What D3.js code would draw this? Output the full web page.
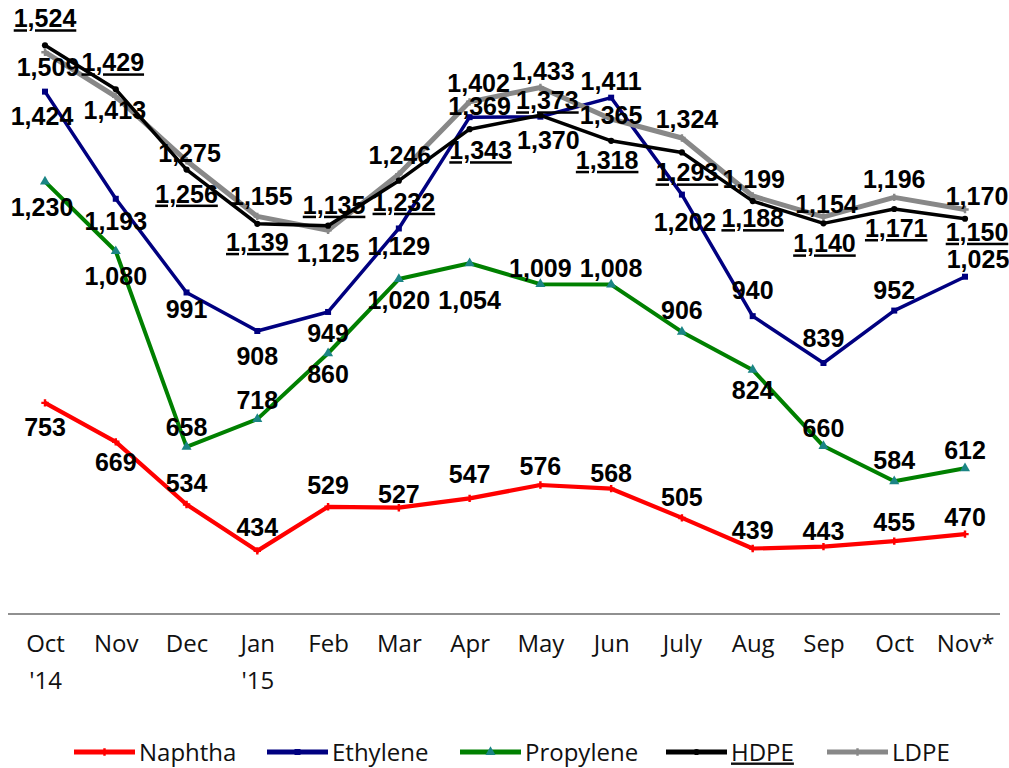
<!DOCTYPE html>
<html><head><meta charset="utf-8">
<script src="https://cdn.jsdelivr.net/npm/d3@7"></script>
<style>body{margin:0;background:#fff}svg{display:block}</style>
</head><body>
<svg id="c" width="1009" height="768"></svg>
<script>
const months = ["Oct","Nov","Dec","Jan","Feb","Mar","Apr","May","Jun","July","Aug","Sep","Oct","Nov*"];
const years  = ["'14","","","'15","","","","","","","","","",""];
const naphtha   = [753,669,534,434,529,527,547,576,568,505,439,443,455,470];
const ethylene  = [1424,1193,991,908,949,1129,1369,1370,1411,1202,940,839,952,1025];
const propylene = [1230,1080,658,718,860,1020,1054,1009,1008,906,824,660,584,612];
const hdpe      = [1524,1429,1256,1139,1135,1232,1343,1373,1318,1293,1188,1140,1171,1150];
const ldpe      = [1509,1413,1275,1155,1125,1246,1402,1433,1365,1324,1199,1154,1196,1170];

// label placement (pixel offsets from the point), kept separate from data
const labelDy = {
  Naphtha:[24,20,-21,-24,-22,-14,-24,-19,-16,-21,-19,-16,-19,-17],
  Ethylene:[24,22,17,25,21,18,-11,23,-17,27,-26,-25,-21,-18],
  Propylene:[25,25,-20,-19,21,21,37,-16,-17,-22,20,-18,-21,-18],
  HDPE:[-27,-27,24,18,-21,21,21,-15,19,20,17,20,19,13],
  LDPE:[15,13,-8,-20,23,-19,-19,-16,-4,-19,-17,-13,-18,-13]
};
const labelDx = {
  Naphtha:[0,0,0,0,0,0,0,0,0,0,0,0,0,0],
  Ethylene:[-3,0,0,0,0,0,10,8,0,3,0,0,0,13],
  Propylene:[-3,0,0,0,0,0,0,0,0,0,0,0,0,0],
  HDPE:[0,-3,0,0,6,5,11,7,-4,5,0,1,2,12],
  LDPE:[3,-1,3,4,0,1,9,3,0,5,1,3,0,12]
};

const series = [
  {name:"Naphtha", values:naphtha, color:"#ff0000", mcolor:"#ff0000", width:4.2, marker:"plus"},
  {name:"Ethylene", values:ethylene, color:"#000080", mcolor:"#000080", width:3.5, marker:"square"},
  {name:"Propylene", values:propylene, color:"#008000", mcolor:"#1b8585", width:4, marker:"triangle"},
  {name:"LDPE", values:ldpe, color:"#888888", mcolor:"#888888", width:5, marker:"plus"},
  {name:"HDPE", values:hdpe, color:"#000000", mcolor:"#000000", width:3.5, marker:"circle", underline:true}
];
const legendOrder = ["Naphtha","Ethylene","Propylene","HDPE","LDPE"];

const svg = d3.select("#c");
const x = d3.scalePoint().domain(d3.range(months.length)).range([45,965]);
const y = d3.scaleLinear().domain([300,1600]).range([613,10]);

const xAxis = d3.axisBottom(x).tickSize(0).tickFormat(i => months[i]);
const ax = svg.append("g").attr("transform","translate(0,614)").call(xAxis);
ax.select(".domain").remove();
svg.append("line").attr("x1",8).attr("x2",1000).attr("y1",614).attr("y2",614)
  .attr("stroke","#222").attr("stroke-width",1.2);
ax.selectAll(".tick text").attr("y",0).attr("dy",37.5)
  .attr("font-family","'Open Sans',sans-serif").attr("font-size",24).attr("fill","#111")
  .attr("text-anchor","middle");
ax.selectAll(".tick").append("text").text(i => years[i]).attr("y",0).attr("dy",75)
  .attr("font-family","'Open Sans',sans-serif").attr("font-size",24).attr("fill","#111")
  .attr("text-anchor","middle");

const sym = {
  plus: d3.symbol().type(d3.symbolCross).size(30),
  square: d3.symbol().type(d3.symbolSquare).size(36),
  triangle: d3.symbol().type(d3.symbolTriangle).size(44),
  circle: d3.symbol().type(d3.symbolCircle).size(30)
};
const line = d3.line().x((d,i)=>x(i)).y(d=>y(d));

series.forEach(s => {
  const g = svg.append("g");
  g.append("path").datum(s.values).attr("d",line).attr("fill","none")
    .attr("stroke",s.color).attr("stroke-width",s.width).attr("stroke-linejoin","round");
  g.selectAll("path.m").data(s.values).enter().append("path").attr("class","m")
    .attr("d",sym[s.marker]).attr("transform",(d,i)=>`translate(${x(i)},${y(d)})`)
    .attr("fill",s.mcolor);
});

series.forEach(s => {
  svg.append("g").selectAll("text").data(s.values).enter().append("text")
    .attr("x",(d,i)=>x(i)+labelDx[s.name][i])
    .attr("y",(d,i)=>y(d)+labelDy[s.name][i])
    .attr("dy","0.36em").attr("text-anchor","middle")
    .attr("font-family","'Liberation Sans',Arial,sans-serif").attr("font-weight","bold")
    .attr("font-size",25).attr("fill","#000")
    .attr("text-decoration", s.underline ? "underline" : null)
    .text(d => d3.format(",")(d));
});

const legX = [74,267,460,666,827];
const lg = svg.append("g");
legendOrder.forEach((n,k) => {
  const s = series.find(t=>t.name===n);
  const g = lg.append("g").attr("transform",`translate(${legX[k]},752)`);
  g.append("line").attr("x1",0).attr("x2",61).attr("stroke",s.color).attr("stroke-width",5);
  g.append("path").attr("d",sym[s.marker]).attr("transform","translate(30.5,0)").attr("fill",s.mcolor);
  g.append("text").attr("x",65).attr("y",8.5).text(n)
    .attr("font-family","'Open Sans',sans-serif").attr("font-size",24).attr("fill","#111")
    .attr("text-decoration", s.underline ? "underline" : null);
});
</script>
</body></html>
